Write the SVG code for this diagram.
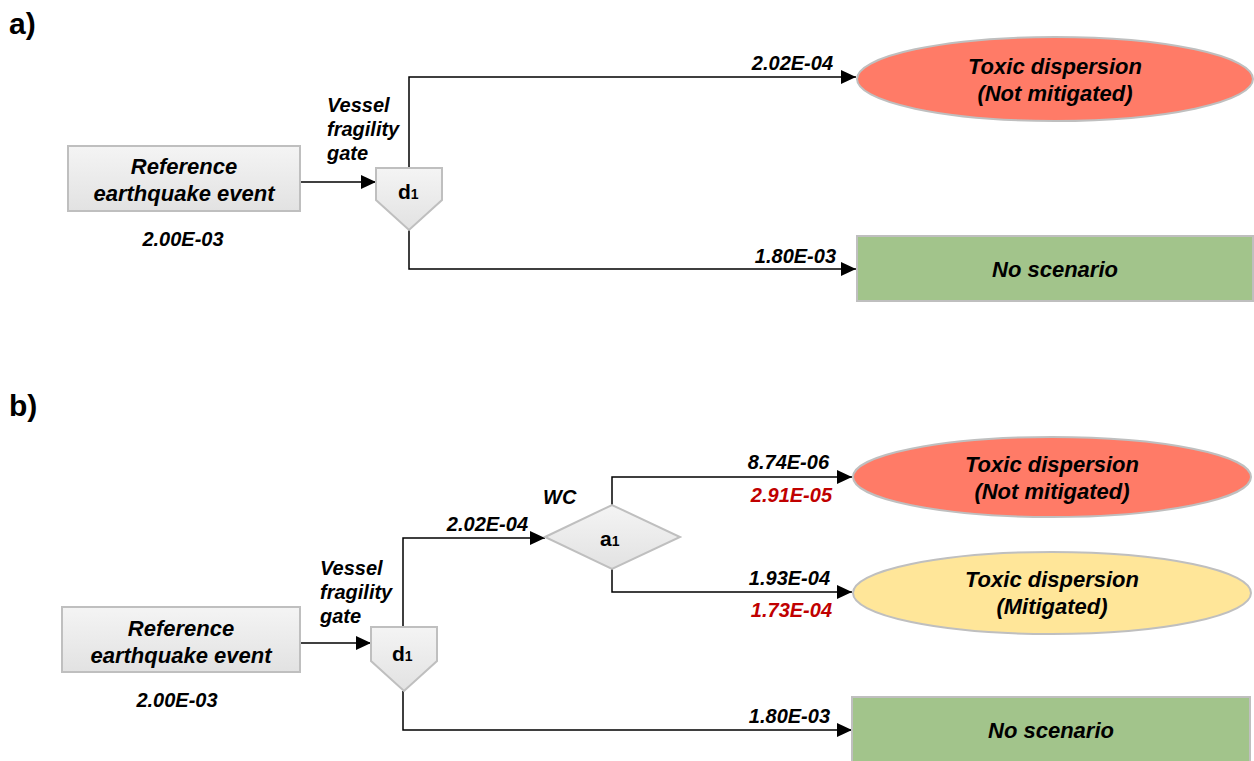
<svg xmlns="http://www.w3.org/2000/svg" width="1254" height="761" viewBox="0 0 1254 761">
<defs>
<linearGradient id="gray" x1="0" y1="0" x2="0" y2="1">
<stop offset="0" stop-color="#f4f4f4"/>
<stop offset="1" stop-color="#e2e2e2"/>
</linearGradient>
<marker id="arr" markerUnits="userSpaceOnUse" markerWidth="16" markerHeight="14" refX="15" refY="7" orient="auto">
<path d="M0,0 L15,7 L0,14 Z" fill="#000"/>
</marker>
</defs>
<style>
.t{font-family:"Liberation Sans",Arial,sans-serif;font-weight:bold;font-style:italic;fill:#000}
.lbl{font-size:20px}
.big{font-size:22px}
.red{fill:#c00000}
.gate{font-family:"Liberation Sans",Arial,sans-serif;font-weight:bold;font-size:21px;fill:#000}
.sub{font-size:14px}
.shape{fill:url(#gray);stroke:#bfbfbf;stroke-width:2}
.conn{fill:none;stroke:#000;stroke-width:1.5}
.panel{font-family:"Liberation Sans",Arial,sans-serif;font-weight:bold;font-size:30px;fill:#000}
</style>
<rect width="1254" height="761" fill="#fff"/>
<text class="panel" x="9" y="34">a)</text>
<text class="panel" x="9" y="416">b)</text>

<g id="connectors">
<path class="conn" d="M300,182 H376" marker-end="url(#arr)"/>
<path class="conn" d="M409,168 V77 H856" marker-end="url(#arr)"/>
<path class="conn" d="M409,230 V269 H856" marker-end="url(#arr)"/>
<path class="conn" d="M300,643 H371" marker-end="url(#arr)"/>
<path class="conn" d="M403,627 V538 H545" marker-end="url(#arr)"/>
<path class="conn" d="M612,505 V477 H852" marker-end="url(#arr)"/>
<path class="conn" d="M612,569 V592 H852" marker-end="url(#arr)"/>
<path class="conn" d="M403,691 V730 H852" marker-end="url(#arr)"/>
</g>

<g id="labels">
<text class="t lbl" x="833" y="70" text-anchor="end">2.02E-04</text>
<text class="t lbl" x="836" y="263" text-anchor="end">1.80E-03</text>
<text class="t lbl" x="327" y="112">Vessel</text>
<text class="t lbl" x="327" y="136">fragility</text>
<text class="t lbl" x="327" y="160">gate</text>
<text class="t lbl" x="183" y="246" text-anchor="middle">2.00E-03</text>
<text class="t lbl" x="528" y="531" text-anchor="end">2.02E-04</text>
<text class="t lbl" x="543" y="504">WC</text>
<text class="t lbl" x="829" y="469" text-anchor="end">8.74E-06</text>
<text class="t lbl red" x="832" y="502" text-anchor="end">2.91E-05</text>
<text class="t lbl" x="830" y="585" text-anchor="end">1.93E-04</text>
<text class="t lbl red" x="832" y="617" text-anchor="end">1.73E-04</text>
<text class="t lbl" x="830" y="723" text-anchor="end">1.80E-03</text>
<text class="t lbl" x="320" y="575">Vessel</text>
<text class="t lbl" x="320" y="599">fragility</text>
<text class="t lbl" x="320" y="623">gate</text>
<text class="t lbl" x="177" y="707" text-anchor="middle">2.00E-03</text>
</g>

<g id="a-ref">
<rect class="shape" x="68" y="146" width="232" height="65"/>
<text class="t big" x="184" y="174" text-anchor="middle">Reference</text>
<text class="t big" x="184" y="201" text-anchor="middle">earthquake event</text>
</g>
<g id="a-d1">
<path class="shape" d="M376,168 H442 V200 L409,230 L376,200 Z"/>
<text class="gate" x="398" y="199">d<tspan class="sub">1</tspan></text>
</g>
<g id="a-toxic">
<ellipse cx="1055" cy="79" rx="198" ry="42" fill="#ff7b67" stroke="#bfbfbf" stroke-width="2"/>
<text class="t big" x="1055" y="74" text-anchor="middle">Toxic dispersion</text>
<text class="t big" x="1055" y="101" text-anchor="middle">(Not mitigated)</text>
</g>
<g id="a-noscen">
<rect x="857" y="236" width="396" height="65" fill="#a2c48b" stroke="#bfbfbf" stroke-width="2"/>
<text class="t big" x="1055" y="277" text-anchor="middle">No scenario</text>
</g>

<g id="b-ref">
<rect class="shape" x="62" y="607" width="238" height="65"/>
<text class="t big" x="181" y="636" text-anchor="middle">Reference</text>
<text class="t big" x="181" y="663" text-anchor="middle">earthquake event</text>
</g>
<g id="b-d1">
<path class="shape" d="M371,627 H437 V661 L404,691 L371,661 Z"/>
<text class="gate" x="392" y="661">d<tspan class="sub">1</tspan></text>
</g>
<g id="b-a1">
<path class="shape" d="M545,537 L612,505 L680,537 L612,569 Z"/>
<text class="gate" x="600" y="546">a<tspan class="sub">1</tspan></text>
</g>
<g id="b-toxic-nm">
<ellipse cx="1052" cy="477" rx="199" ry="40" fill="#ff7b67" stroke="#bfbfbf" stroke-width="2"/>
<text class="t big" x="1052" y="472" text-anchor="middle">Toxic dispersion</text>
<text class="t big" x="1052" y="499" text-anchor="middle">(Not mitigated)</text>
</g>
<g id="b-toxic-m">
<ellipse cx="1052" cy="593" rx="199" ry="41" fill="#ffe699" stroke="#bfbfbf" stroke-width="2"/>
<text class="t big" x="1052" y="587" text-anchor="middle">Toxic dispersion</text>
<text class="t big" x="1052" y="614" text-anchor="middle">(Mitigated)</text>
</g>
<g id="b-noscen">
<rect x="852" y="697" width="398" height="70" fill="#a2c48b" stroke="#bfbfbf" stroke-width="2"/>
<text class="t big" x="1051" y="738" text-anchor="middle">No scenario</text>
</g>
</svg>
